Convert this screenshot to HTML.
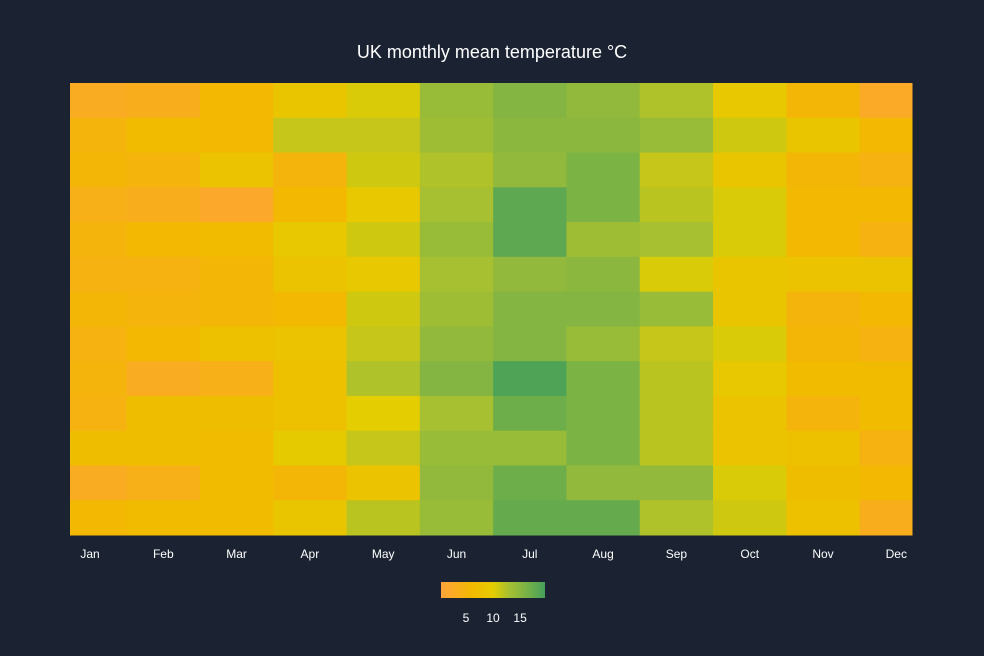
<!DOCTYPE html>
<html><head><meta charset="utf-8"><style>
html,body{margin:0;padding:0;background:#1b2333;}
svg{display:block;font-family:"Liberation Sans",sans-serif;}
</style></head><body>
<svg id="chart" width="984" height="656">
<rect width="984" height="656" fill="#1b2333"/>
<text x="492" y="58" fill="#ffffff" font-size="18" text-anchor="middle">UK monthly mean temperature °C</text>
<g id="cells"></g>
<g id="xaxis"></g>
<defs><linearGradient id="cg" x1="0" x2="1" y1="0" y2="0"></linearGradient></defs>
<rect x="441" y="582" width="104" height="16" fill="url(#cg)"/>
<g id="cbticks"></g>
</svg>
<script>
const months=["Jan","Feb","Mar","Apr","May","Jun","Jul","Aug","Sep","Oct","Nov","Dec"];
const values=[
[3,3.5,6,8.5,10.5,14,15.5,14.5,12.5,9,5.5,2.5],
[5,6.5,6,11.5,11.5,13.5,15,15,14,11,8.5,6],
[5.5,5,8,5,11,12.5,14.5,16,11.5,8.5,5.5,4.5],
[4,3.5,2,6,9,13,18,16,12,10.5,6,6],
[5,6,6.5,9,11,14,18,13.5,13,10.5,6,4.5],
[4.5,4.5,5.5,8,9,13,14.5,15,10.5,8.5,8,8],
[5.5,5,5.5,6,11,13.5,15.5,15.5,14,8.5,5,6],
[4.5,6,7.5,8,11.5,14.5,15.5,14,11.5,10.5,5.5,4.5],
[5,3,4,7.5,12.5,15.5,19,16,12,9,6.5,6.5],
[4.5,7,7,7.5,10,13,17,16,12,8,5,6.5],
[7,7,6.5,9.5,11.5,14,14,16,12,8,7.5,4.5],
[3,4,6.5,5.5,8,14.5,17,14.5,14.5,10.5,7,6],
[6,6.5,6.5,8.5,12,14,17.5,17.5,12.5,11,7.5,3.5]
];
const cbTicks=[5,10,15];
const zmin=0.4, zmax=19.6;
const stops=[[0,[255,162,60]],[0.3,[242,185,0]],[0.5,[228,205,0]],[0.65,[168,192,48]],[0.8,[128,180,68]],[1,[69,160,90]]];
function color(v){let t=Math.max(0,Math.min(1,(v-zmin)/(zmax-zmin)));
for(let i=1;i<stops.length;i++){if(t<=stops[i][0]){const a=stops[i-1],b=stops[i];const f=(t-a[0])/(b[0]-a[0]);
const c=a[1].map((x,k)=>Math.round(x+(b[1][k]-x)*f));return `rgb(${c})`;}}return 'rgb(69,160,90)';}
const X0=70,X1=912,Y0=83,Y1=535;
const C0=90,CS=73.3;
const xc=i=>C0+i*CS;
const xl=i=>Math.max(X0,xc(i)-CS/2), xr=i=>Math.min(X1,xc(i)+CS/2);
const rh=(Y1-Y0)/values.length, ys=j=>Y0+j*rh;
const NS="http://www.w3.org/2000/svg";
const cells=document.getElementById('cells');
values.forEach((row,j)=>row.forEach((v,i)=>{const r=document.createElementNS(NS,'rect');
r.setAttribute('x',xl(i));r.setAttribute('y',ys(j));r.setAttribute('width',xr(i)-xl(i)+0.5);r.setAttribute('height',rh+0.5);r.setAttribute('fill',color(v));


cells.appendChild(r);}));
const xa=document.getElementById('xaxis');
months.forEach((m,i)=>{const t=document.createElementNS(NS,'text');
t.setAttribute('x',xc(i));t.setAttribute('y',558);t.setAttribute('fill','#ffffff');t.setAttribute('font-size','12');t.setAttribute('text-anchor','middle');t.textContent=m;


xa.appendChild(t);});
const g=document.getElementById('cg');
for(let k=0;k<=20;k++){const s=document.createElementNS(NS,'stop');const v=zmin+(zmax-zmin)*k/20;
s.setAttribute('offset',k/20);s.setAttribute('stop-color',color(v));g.appendChild(s);}
const cb=document.getElementById('cbticks');
cbTicks.forEach(v=>{const t=document.createElementNS(NS,'text');
t.setAttribute('x',441+104*(v-zmin)/(zmax-zmin));t.setAttribute('y',622);t.setAttribute('fill','#ffffff');t.setAttribute('font-size','12');t.setAttribute('text-anchor','middle');t.textContent=v;


cb.appendChild(t);});
</script>
</body></html>
